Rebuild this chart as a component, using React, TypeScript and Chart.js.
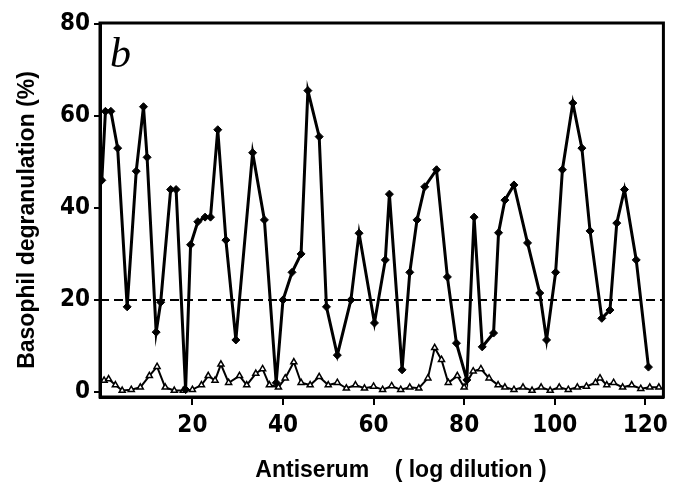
import React, { useEffect, useRef } from "react";
import { Chart, registerables } from "chart.js";

Chart.register(...registerables);

// Filled series (black markers): antiserum log dilution vs degranulation (%)
const filledX = [0, 0.8, 2, 3.5, 5.6, 7.6, 9.2, 10, 12, 13, 15.2, 16.4, 18.5, 19.6, 21.2, 22.8, 24, 25.6, 27.4, 29.6, 33.3, 35.9, 38.5, 40, 42, 44, 45.5, 48, 49.6, 52, 55, 56.8, 60.2, 62.6, 63.5, 66.3, 68, 69.6, 71.3, 73.9, 76.3, 78.3, 80.6, 82.2, 84, 86.5, 87.6, 89, 91, 94, 96.7, 98.2, 100.2, 101.7, 104, 106, 107.8, 110.4, 112.2, 113.7, 115.4, 118, 120.7];
const filledY = [46, 61, 61, 53, 18.5, 48, 62, 51, 13, 19.5, 44, 44, 0.5, 32, 37, 38, 38, 57, 33, 11.3, 52, 37.4, 2, 20, 26, 30, 65.5, 55.5, 18.5, 8, 20, 34.5, 15, 28.7, 43, 4.8, 26, 37.4, 44.6, 48.3, 25, 10.6, 2.6, 38, 9.8, 12.8, 34.6, 41.7, 45, 32.4, 21.5, 11.3, 26, 48.3, 62.8, 53, 35, 16, 17.8, 36.7, 44, 28.7, 5.4];

// Open series (open triangles)
const openX = [0.5, 1.5, 3, 4.5, 6.5, 8.5, 10.5, 12.2, 14, 16, 18, 20, 22, 23.5, 25, 26.3, 28, 30.4, 32, 34, 35.5, 37, 39, 40.5, 42.4, 44, 46, 48, 50, 52, 54, 56, 58, 60, 62, 64, 66, 68, 70, 72, 73.5, 75, 76.5, 78.5, 80, 82, 83.7, 85.5, 87.5, 89, 91, 93, 95, 97, 99, 101, 103, 105, 107, 109, 110, 111.5, 113, 115, 117, 119, 121, 123];
const openY = [2.5, 2.8, 1.5, 0.3, 0.5, 1, 3.5, 5.5, 1, 0.3, 0.3, 0.5, 1.5, 3.5, 2.5, 6, 2, 3.5, 1.5, 4, 5, 1.5, 1, 3, 6.5, 2, 1.5, 3.3, 1.5, 2, 0.8, 1.5, 0.8, 1.2, 0.5, 1.3, 0.5, 1, 0.8, 3, 9.6, 7, 2, 3.5, 1, 4.5, 5, 3, 1.5, 1, 0.5, 1, 0.3, 1, 0.3, 1, 0.5, 1, 1.2, 2, 3, 1.5, 2, 1, 1.5, 0.7, 1, 1];

const thresholdLevel = 20;
const xTicks = [20, 40, 60, 80, 100, 120];
const yTicks = [0, 20, 40, 60, 80];
const xMin = -0.4;
const xMax = 124;
const yMin = -1.1;
const yMax = 80.2;

const xTitle = "Antiserum    ( log dilution )";
const yTitle = "Basophil degranulation (%)";
const panelLabel = "b";

const CONDENSED = '"DejaVu Sans Condensed", "DejaVu Sans", sans-serif';
const SANS = '"Liberation Sans", Arial, sans-serif';

const decorPlugin = {
  id: "decor",
  afterDatasetsDraw(chart: any) {
    const { ctx, chartArea } = chart;
    ctx.save();
    ctx.strokeStyle = "#000";
    ctx.lineWidth = 3;
    ctx.strokeRect(chartArea.left, chartArea.top, chartArea.right - chartArea.left, chartArea.bottom - chartArea.top);
    ctx.fillStyle = "#000";
    // panel letter
    ctx.font = 'italic 42px "Liberation Serif", serif';
    ctx.textAlign = "left";
    ctx.textBaseline = "alphabetic";
    ctx.fillText(panelLabel, chartArea.left + 10, chartArea.top + 44);
    // x title
    ctx.font = `bold 23px ${SANS}`;
    ctx.textAlign = "center";
    ctx.textBaseline = "middle";
    ctx.fillText(xTitle, 401, 471);
    // y title
    ctx.translate(28, 220);
    ctx.rotate(-Math.PI / 2);
    ctx.fillText(yTitle, 0, 0);
    ctx.restore();
  },
};

export default function App() {
  const canvasRef = useRef<HTMLCanvasElement | null>(null);

  useEffect(() => {
    const canvas = canvasRef.current;
    if (!canvas) return;
    const filled = filledX.map((x, i) => ({ x, y: filledY[i] }));
    const open = openX.map((x, i) => ({ x, y: openY[i] }));
    const threshold = [
      { x: xMin, y: thresholdLevel },
      { x: xMax, y: thresholdLevel },
    ];
    const chart = new Chart(canvas, {
      type: "line",
      data: {
        datasets: [
          {
            label: "filled",
            data: filled,
            borderColor: "#000",
            backgroundColor: "#000",
            borderWidth: 3,
            pointStyle: "rectRot",
            pointRadius: 4,
            pointBorderWidth: 1,
            pointBackgroundColor: "#000",
            order: 1,
            tension: 0,
          },
          {
            label: "open",
            data: open,
            borderColor: "#000",
            backgroundColor: "#fff",
            borderWidth: 2,
            pointStyle: "triangle",
            pointRadius: 3.5,
            pointBorderWidth: 1.5,
            pointBackgroundColor: "#fff",
            order: 2,
            tension: 0,
          },
          {
            label: "threshold",
            data: threshold,
            borderColor: "#000",
            borderWidth: 2,
            borderDash: [9, 5],
            pointRadius: 0,
            order: 3,
          },
        ],
      },
      options: {
        animation: false,
        responsive: false,
        devicePixelRatio: 1,
        layout: { padding: { top: 23, right: 2, left: 0, bottom: 0 } },
        plugins: {
          legend: { display: false },
          tooltip: { enabled: false },
        },
        scales: {
          x: {
            type: "linear",
            min: xMin,
            max: xMax,
            afterBuildTicks: (scale: any) => {
              scale.ticks = xTicks.map((v) => ({ value: v }));
            },
            afterFit: (scale: any) => {
              scale.height = 90;
            },
            ticks: {
              color: "#000",
              font: { family: CONDENSED, size: 24, weight: "bold" },
              padding: 6,
              maxRotation: 0,
              autoSkip: false,
              callback: (v: any) => String(v),
            },
            grid: {
              drawOnChartArea: false,
              drawTicks: true,
              tickLength: 8,
              color: "#000",
              lineWidth: 2,
            },
            border: { display: true, color: "#000", width: 3 },
          },
          y: {
            type: "linear",
            min: yMin,
            max: yMax,
            afterBuildTicks: (scale: any) => {
              scale.ticks = yTicks.map((v) => ({ value: v }));
            },
            afterFit: (scale: any) => {
              scale.width = 100;
            },
            ticks: {
              color: "#000",
              font: { family: CONDENSED, size: 24, weight: "bold" },
              padding: 4,
              autoSkip: false,
              callback: (v: any) => String(v),
            },
            grid: {
              drawOnChartArea: false,
              drawTicks: true,
              tickLength: 6,
              color: "#000",
              lineWidth: 2,
            },
            border: { display: true, color: "#000", width: 3 },
          },
        },
      },
      plugins: [decorPlugin],
    });
    return () => chart.destroy();
  }, []);

  return (
    <div style={{ position: "fixed", left: 0, top: 0, width: 674, height: 487, background: "#fff" }}>
      <canvas ref={canvasRef} width={674} height={487} style={{ width: 674, height: 487, display: "block" }} />
    </div>
  );
}
